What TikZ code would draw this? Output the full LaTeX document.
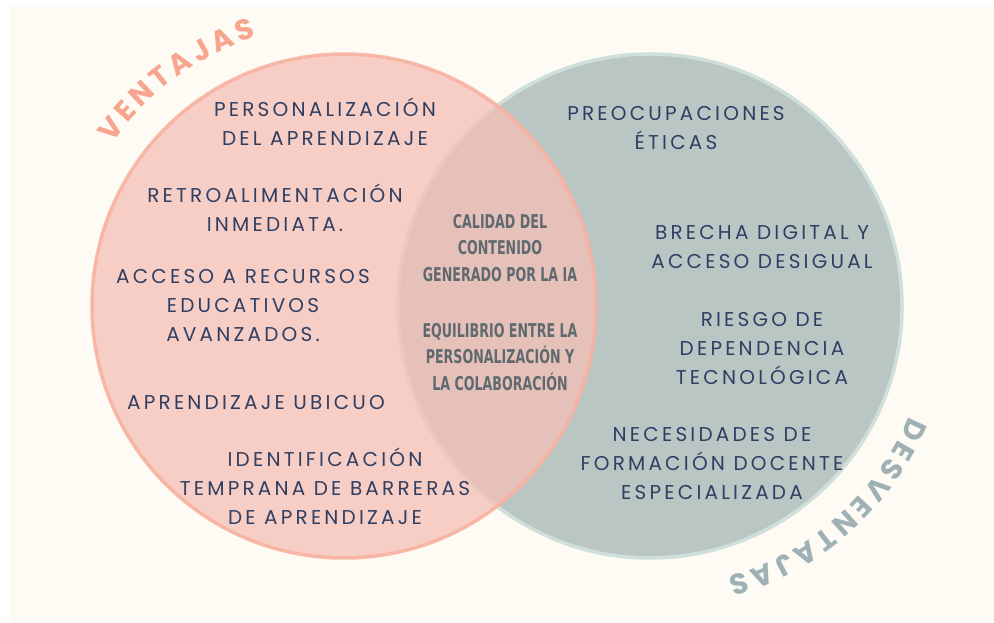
\documentclass[tikz,border=0pt]{standalone}
\usepackage{fontspec}
\setmainfont{Poppins}
\newfontfamily\vennfont{Poppins}[LetterSpace=16]
\newfontfamily\narrowfont{DejaVu Sans Condensed}[FakeStretch=0.74]
\usetikzlibrary{decorations.text}

\definecolor{cream}{HTML}{FEFBF4}
\definecolor{pinkfill}{HTML}{F5C0B6}
\definecolor{pinkline}{HTML}{F8B2A1}
\definecolor{greyfill}{HTML}{BAC6C4}
\definecolor{greyline}{HTML}{CFE0DA}
\definecolor{navy}{HTML}{2F3F63}
\definecolor{midgrey}{HTML}{5E6970}
\definecolor{pinklabel}{HTML}{F7A58F}
\definecolor{greylabel}{HTML}{9FB1B4}

\tikzset{
  item/.style={align=center, text=navy,
    font=\vennfont\fontsize{20}{29}\selectfont},
  shared/.style={align=center, text=midgrey,
    font=\narrowfont\bfseries\fontsize{19}{26.5}\selectfont}
}

\begin{document}
\begin{tikzpicture}[x=1pt, y=1pt]
      \useasboundingbox (0,0) rectangle (994,622);
      \fill[white] (0,0) rectangle (994,622);
      \fill[cream] (10,0) rectangle (994,616);

      % the two sets
      \fill[greyfill] (650,316) circle (252);
      \draw[greyline, line width=3.5pt] (650,316) circle (252);
      \fill[pinkfill, opacity=0.75] (344,316) circle (252);
      \draw[pinkline, line width=3.5pt, opacity=0.9] (344,316) circle (252);

      % labels on the arcs
      \path[decorate, decoration={text along path, text align={fit to path},
          text color=pinklabel,
          text={|\bfseries\fontsize{29}{29}\selectfont|VENTAJAS}}]
        ([shift={(145:283)}]344,316) arc[start angle=145, end angle=108, radius=283];
      \path[decorate, decoration={text along path, text align={fit to path},
          text color=greylabel,
          text={|\bfseries\fontsize{29}{29}\selectfont|DESVENTAJAS}}]
        ([shift={(-23:282)}]650,316) arc[start angle=-23, end angle=-74, radius=282];

      % ventajas
      \node[item] (perso) at (325,500) {PERSONALIZACIÓN\\DEL APRENDIZAJE};
      \node[item] (retro) at (275,414) {RETROALIMENTACIÓN\\INMEDIATA.};
      \node[item] (acceso) at (243,316) {ACCESO A RECURSOS\\EDUCATIVOS\\AVANZADOS.};
      \node[item] (ubicuo) at (256,219) {APRENDIZAJE UBICUO};
      \node[item] (ident) at (325,136) {IDENTIFICACIÓN\\TEMPRANA DE BARRERAS\\DE APRENDIZAJE};

      % comunes
      \node[shared] (calidad) at (500,374) {CALIDAD DEL\\CONTENIDO\\GENERADO POR LA IA};
      \node[shared] (equil) at (500,265) {EQUILIBRIO ENTRE LA\\PERSONALIZACIÓN Y\\LA COLABORACIÓN};

      % desventajas
      \node[item] (etica) at (676,494) {PREOCUPACIONES\\ÉTICAS};
      \node[item] (brecha) at (762,375) {BRECHA DIGITAL Y\\ACCESO DESIGUAL};
      \node[item] (riesgo) at (762,273) {RIESGO DE\\DEPENDENCIA\\TECNOLÓGICA};
      \node[item] (formacion) at (712,158) {NECESIDADES DE\\FORMACIÓN DOCENTE\\ESPECIALIZADA};
    \end{tikzpicture}
\end{document}
